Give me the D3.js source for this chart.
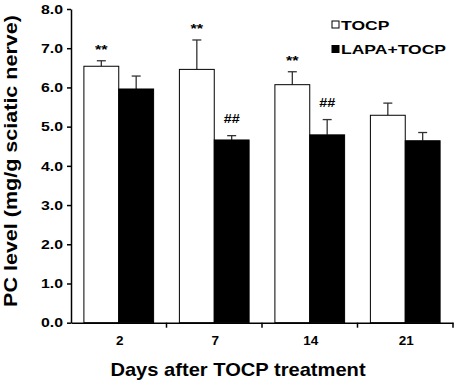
<!DOCTYPE html>
<html>
<head>
<meta charset="utf-8">
<script src="https://cdn.jsdelivr.net/npm/d3@7"></script>
<style>
  body { margin: 0; background: #fff; }
  text { font-family: "Liberation Sans", Arial, sans-serif; font-weight: bold; fill: #000; }
</style>
</head>
<body>
<div id="chart"></div>
<script>
// 数据
const days = ['2', '7', '14', '21'];
const seriesNames = ['TOCP', 'LAPA+TOCP'];
const tocpMean = [6.54, 6.46, 6.07, 5.29];
const tocpErr = [0.14, 0.75, 0.33, 0.31];
const lapaMean = [5.96, 4.66, 4.79, 4.64];
const lapaErr = [0.33, 0.11, 0.39, 0.21];
const tocpMarks = ['**', '**', '**', ''];
const lapaMarks = ['', '##', '##', ''];
const yTicks = [0, 1, 2, 3, 4, 5, 6, 7, 8];

const width = 459, height = 383;
const margin = { top: 9, right: 6, bottom: 60, left: 71 };

const svg = d3.select('#chart').append('svg')
    .attr('width', width)
    .attr('height', height);

const x = d3.scaleBand()
    .domain(days)
    .range([margin.left, width - margin.right])
    .paddingInner(0)
    .paddingOuter(0);

const xSub = d3.scaleBand()
    .domain(seriesNames)
    .range([0, x.bandwidth()])
    .paddingInner(0)
    .paddingOuter(0.37);

const y = d3.scaleLinear()
    .domain([0, 8])
    .range([height - margin.bottom - 0.3, margin.top]);

// 组合数据
const rows = days.map((d, i) => ({
    day: d,
    values: [
        { name: seriesNames[0], mean: tocpMean[i], err: tocpErr[i], mark: tocpMarks[i] },
        { name: seriesNames[1], mean: lapaMean[i], err: lapaErr[i], mark: lapaMarks[i] }
    ]
}));

const fill = { 'TOCP': '#fff', 'LAPA+TOCP': '#000' };

const group = svg.append('g')
    .selectAll('g')
    .data(rows)
    .enter().append('g')
    .attr('transform', d => `translate(${x(d.day)},0)`);

const item = group.selectAll('g')
    .data(d => d.values)
    .enter().append('g');

const cx = d => xSub(d.name) + xSub.bandwidth() / 2;

// 误差线
item.append('line')
    .attr('x1', cx)
    .attr('x2', cx)
    .attr('y1', d => y(d.mean))
    .attr('y2', d => y(d.mean + d.err))
    .attr('stroke', '#333')
    .attr('stroke-width', 1.3);

item.append('line')
    .attr('x1', d => cx(d) - 4.5)
    .attr('x2', d => cx(d) + 4.5)
    .attr('y1', d => y(d.mean + d.err))
    .attr('y2', d => y(d.mean + d.err))
    .attr('stroke', '#333')
    .attr('stroke-width', 1.3);

// 柱子
item.append('rect')
    .attr('x', d => xSub(d.name))
    .attr('y', d => y(d.mean))
    .attr('width', xSub.bandwidth())
    .attr('height', d => y(0) - y(d.mean))
    .attr('fill', d => fill[d.name])
    .attr('stroke', '#000')
    .attr('stroke-width', 1);

// 显著性标记
item.append('text')
    .attr('transform', d => `translate(${cx(d)},${y(d.mean + d.err) - (d.mark === '**' ? 7 : 13)}) scale(1.2,1)`)
    .attr('text-anchor', 'middle')
    .style('font-size', d => d.mark === '**' ? '13.5px' : '12px')
    .text(d => d.mark);

// Y轴
const yAxis = svg.append('g')
    .attr('transform', `translate(${margin.left},0)`)
    .call(d3.axisLeft(y).tickValues(yTicks).tickFormat(d3.format('.1f')).tickSizeInner(4).tickSizeOuter(0).tickPadding(4));
yAxis.select('.domain').attr('stroke-width', 1.5);
yAxis.selectAll('.tick line').attr('stroke-width', 1.5);
yAxis.selectAll('.tick text')
    .style('font-size', '13px')
    .attr('transform', 'scale(1.22,1)')
    .attr('x', -8 / 1.22);

// X轴
const xAxis = svg.append('g')
    .attr('transform', `translate(0,${y(0)})`)
    .call(d3.axisBottom(x).tickSize(0).tickPadding(0));
xAxis.select('.domain').attr('stroke-width', 1.5);
xAxis.selectAll('.tick text')
    .style('font-size', '13.5px')
    .attr('dy', null)
    .attr('y', 22)
    .attr('transform', 'translate(1,0)');

const bounds = days.map(d => x(d)).concat([x(days[days.length - 1]) + x.bandwidth()]);
svg.append('g')
    .selectAll('line')
    .data(bounds.slice(1))
    .enter().append('line')
    .attr('x1', d => d).attr('x2', d => d)
    .attr('y1', y(0)).attr('y2', y(0) + 5)
    .attr('stroke', '#000')
    .attr('stroke-width', 1.5);

// 坐标轴标题
svg.append('text')
    .attr('transform', 'translate(238,376) scale(1.15,1)')
    .attr('text-anchor', 'middle')
    .style('font-size', '17.5px')
    .text('Days after TOCP treatment');

svg.append('text')
    .attr('transform', 'translate(17,161) rotate(-90) scale(1.23,1)')
    .attr('text-anchor', 'middle')
    .style('font-size', '17.5px')
    .text('PC level (mg/g sciatic nerve)');

// 图例
const legend = svg.append('g')
    .selectAll('g')
    .data(seriesNames)
    .enter().append('g')
    .attr('transform', (d, i) => `translate(332,${21 + i * 24.5})`);

legend.append('rect')
    .attr('width', 7)
    .attr('height', 7)
    .attr('fill', d => fill[d])
    .attr('stroke', '#000')
    .attr('stroke-width', 1);

legend.append('text')
    .attr('transform', 'translate(9,8.5) scale(1.3,1)')
    .style('font-size', '13.5px')
    .text(d => d);
</script>
</body>
</html>
